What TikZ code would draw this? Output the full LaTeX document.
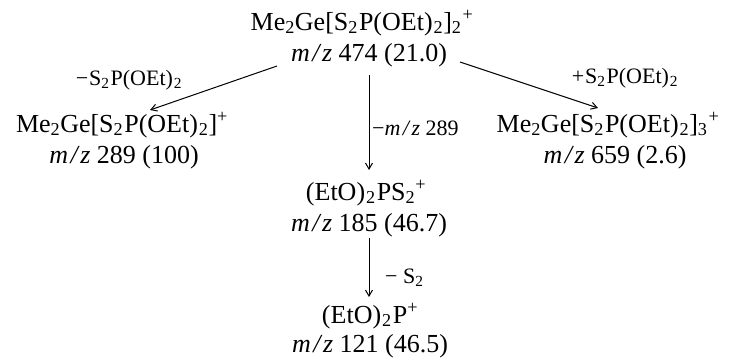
\documentclass[tikz,border=0pt]{standalone}
\usepackage{fontspec}
\setmainfont{Liberation Serif}
\usetikzlibrary{arrows.meta,calc}
\newcommand\chsub[1]{\textsubscript{#1}}
\newcommand\chsup[1]{\textsuperscript{#1}}
\newcommand\mz{\textit{m\kern2.5pt/\kern2.5pt z}}
\begin{document}
\begin{tikzpicture}[x=1pt,y=-1pt,
  txt/.style={inner sep=0pt,anchor=base,font=\fontsize{26}{30}\selectfont},
  lbl/.style={inner sep=0pt,font=\fontsize{22}{26}\selectfont},
  arr/.style={line width=1pt,-{Straight Barb[length=6pt,width=7pt,line width=1pt]}}]
\useasboundingbox (0,0) rectangle (736,360);
% top
\node[txt] (topA) at (362,30) {Me\chsub{2}Ge[S\chsub{2}\kern1pt P(OEt)\kern1pt\chsub{2}]\chsub{2}\kern1pt\chsup{+}};
\node[txt] (topB) at (369,61) {\mz{} 474 (21.0)};
% left
\node[txt] (leftA) at (122,132) {Me\chsub{2}Ge[S\chsub{2}\kern1pt P(OEt)\kern1pt\chsub{2}]\chsup{+}};
\node[txt] (leftB) at (124,163) {\mz{} 289 (100)};
% right
\node[txt] (rightA) at (608,132) {Me\chsub{2}Ge[S\chsub{2}\kern1pt P(OEt)\kern1pt\chsub{2}]\chsub{3}\kern1pt\chsup{+}};
\node[txt] (rightB) at (615,163) {\mz{} 659 (2.6)};
% middle
\node[txt] (midA) at (366,200) {(EtO)\kern1pt\chsub{2}\kern1pt PS\chsub{2}\chsup{+}};
\node[txt] (midB) at (369,231) {\mz{} 185 (46.7)};
% bottom
\node[txt] (botA) at (370,323) {(EtO)\kern1pt\chsub{2}\kern1pt P\chsup{+}};
\node[txt] (botB) at (370,352) {\mz{} 121 (46.5)};
% labels
\node[lbl,anchor=base] (lblL) at (129,85) {\textminus\kern1pt S\chsub{2}\kern1pt P(OEt)\kern1pt\chsub{2}};
\node[lbl,anchor=base] (lblR) at (625,83) {+\kern1pt S\chsub{2}\kern1pt P(OEt)\kern1pt\chsub{2}};
\node[lbl,anchor=base west] (lblM) at (372,135) {\textminus\mz{} 289};
\node[lbl,anchor=base west] (lblB) at (385,283) {\textminus\ S\chsub{2}};
% connector ends
\coordinate (aL1) at (277,66);
\coordinate (aL2) at (150,110);
\coordinate (aR1) at (460,62);
\coordinate (aR2) at (598,108);
\coordinate (aM1) at (369,75);
\coordinate (aM2) at (369,170);
\coordinate (aB1) at (369,238);
\coordinate (aB2) at (369,297);
\draw[arr] (aL1) -- (aL2);
\draw[arr] (aR1) -- (aR2);
\draw[arr] (aM1) -- (aM2);
\draw[arr] (aB1) -- (aB2);
\end{tikzpicture}
\end{document}
